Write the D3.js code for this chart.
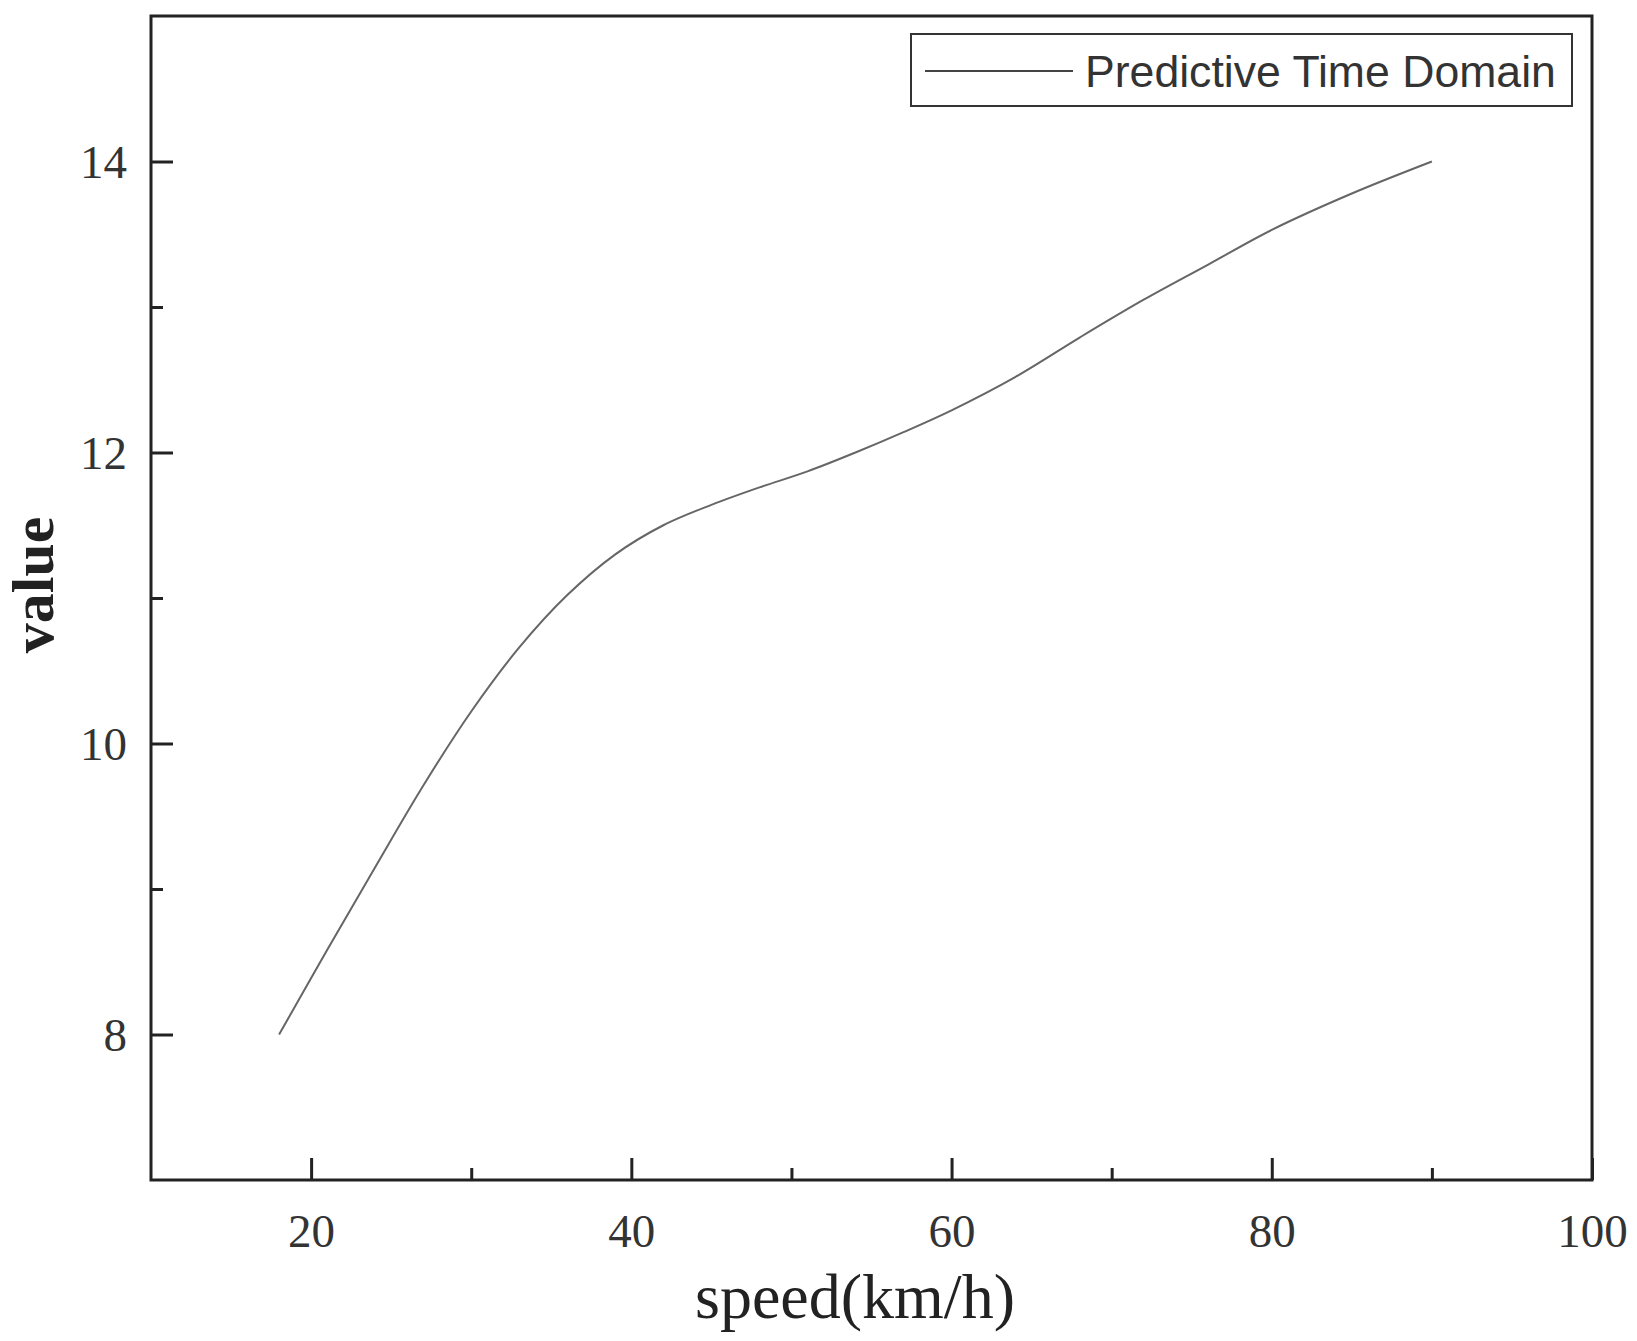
<!DOCTYPE html>
<html>
<head>
<meta charset="utf-8">
<script src="https://cdn.jsdelivr.net/npm/d3@7"></script>
<style>
body{margin:0;background:#fff;}
svg{display:block;}
</style>
</head>
<body>
<div class="viz"></div>
<script>
// values
const speeds=[18,21,24,27,30,33,36,39,42,45,48,51,54,57,60,64,68,72,76,80,85,90];
const values=[8.0,8.58,9.15,9.71,10.22,10.66,11.02,11.3,11.5,11.64,11.76,11.87,12.0,12.14,12.29,12.52,12.79,13.05,13.29,13.53,13.78,14.0];
const xMajor=[20,40,60,80,100];
const xMinor=[30,50,70,90];
const yMajor=[8,10,12,14];
const yMinor=[9,11,13];
const seriesName='Predictive Time Domain';

const width=1637;
const height=1341;
const plotLeft=151,plotRight=1592,plotTop=16,plotBottom=1180;

const svg=d3.select('.viz').append('svg')
	.attr('width',width)
	.attr('height',height)

const x=d3.scaleLinear().domain([10,100]).range([plotLeft,plotRight])
const y=d3.scaleLinear().domain([7,15]).range([plotBottom,plotTop])

const data=speeds.map((s,i)=>({s:s,v:values[i]}))

// data line
const line=d3.line()
	.x(d=>x(d.s))
	.y(d=>y(d.v))
	.curve(d3.curveCatmullRom.alpha(0.5))

svg.append('path')
	.datum(data)
	.attr('d',line)
	.attr('fill','none')
	.attr('stroke','#666')
	.attr('stroke-width',2)

// ticks, pointing inside
const xAxis=svg.append('g')
	.attr('transform','translate(0,'+plotBottom+')')
	.call(d3.axisBottom(x).tickValues(xMajor).tickSize(-22).tickPadding(67).tickFormat(d3.format('d')))
const xAxisMinor=svg.append('g')
	.attr('transform','translate(0,'+plotBottom+')')
	.call(d3.axisBottom(x).tickValues(xMinor).tickSize(-12).tickFormat(''))
const yAxis=svg.append('g')
	.attr('transform','translate('+plotLeft+',0)')
	.call(d3.axisLeft(y).tickValues(yMajor).tickSize(-22).tickPadding(24).tickFormat(d3.format('d')))
const yAxisMinor=svg.append('g')
	.attr('transform','translate('+plotLeft+',0)')
	.call(d3.axisLeft(y).tickValues(yMinor).tickSize(-12).tickFormat(''))

svg.selectAll('.domain').remove()
svg.selectAll('.tick line')
	.attr('stroke','#222')
	.attr('stroke-width',3)
svg.selectAll('.tick text')
	.attr('fill','#333')
	.style('font-family','"Liberation Serif","Times New Roman",serif')
	.style('font-size','47px')
xAxis.selectAll('.tick text').attr('dy',0)
yAxis.selectAll('.tick text').attr('dy','0.34em')

// frame
svg.append('rect')
	.attr('x',plotLeft)
	.attr('y',plotTop)
	.attr('width',plotRight-plotLeft)
	.attr('height',plotBottom-plotTop)
	.attr('fill','none')
	.attr('stroke','#222')
	.attr('stroke-width',3)

// axis titles
svg.append('text')
	.attr('x',855)
	.attr('y',1318)
	.attr('text-anchor','middle')
	.attr('fill','#222')
	.style('font-family','"Liberation Serif","Times New Roman",serif')
	.style('font-size','64px')
	.text('speed(km/h)')

svg.append('text')
	.attr('transform','translate(53,585) rotate(-90)')
	.attr('text-anchor','middle')
	.attr('fill','#222')
	.style('font-family','"Liberation Serif","Times New Roman",serif')
	.style('font-size','60px')
	.style('font-weight','bold')
	.text('value')

// legend
const legend=svg.append('g')
legend.append('rect')
	.attr('x',911)
	.attr('y',34)
	.attr('width',661)
	.attr('height',72)
	.attr('fill','#fff')
	.attr('stroke','#333')
	.attr('stroke-width',2)
legend.append('line')
	.attr('x1',925)
	.attr('x2',1073)
	.attr('y1',71)
	.attr('y2',71)
	.attr('stroke','#444')
	.attr('stroke-width',2)
legend.append('text')
	.attr('x',1085)
	.attr('y',87)
	.attr('fill','#333')
	.style('font-family','"Liberation Sans",Arial,sans-serif')
	.style('font-size','44.6px')
	.text(seriesName)
</script>
</body>
</html>
